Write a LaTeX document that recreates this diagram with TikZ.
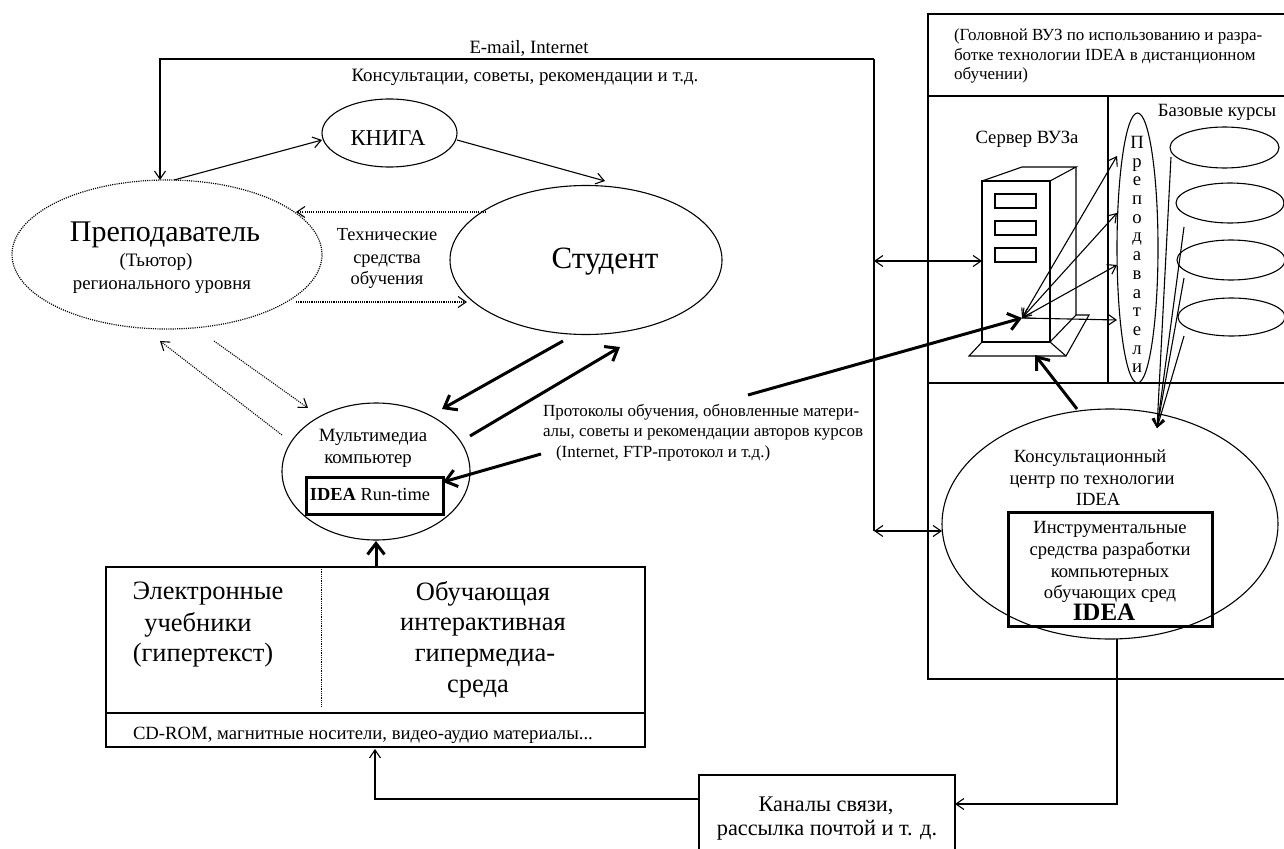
\documentclass[tikz,border=0pt]{standalone}
\usepackage{fontspec}
\setmainfont{Liberation Serif}
\usetikzlibrary{arrows.meta,shapes.geometric}
\newcommand{\fsz}[1]{\fontsize{#1}{#1}\selectfont}
\newcommand{\evenstrut}{\rule[-.25em]{0pt}{.95em}}
\tikzset{
  thinline/.style={line width=1.1pt},
  arr/.style={thinline,-{Straight Barb[length=8pt,width=11pt,line width=1.1pt]}},
  dbl/.style={thinline,{Straight Barb[length=8pt,width=11pt,line width=1.1pt]}-{Straight Barb[length=8pt,width=11pt,line width=1.1pt]}},
  finedots/.style={dash pattern=on 1.1pt off 1.1pt},
  dotarr/.style={line width=1.1pt,finedots,-{Straight Barb[length=8pt,width=11pt,line width=1.1pt,sep=0pt]}},
  thickarr/.style={line width=3pt,-{Straight Barb[length=11pt,width=17pt,line width=3pt]}},
  oval/.style={draw,ellipse,line width=1.1pt,inner sep=0pt,outer sep=0pt},
  dotoval/.style={oval,line width=1.2pt,finedots},
  box/.style={draw,rectangle,line width=1.1pt,inner sep=0pt,outer sep=0pt},
  heavybox/.style={box,line width=3pt},
  txt/.style={inner sep=0pt,outer sep=0pt,yshift=-2pt,execute at begin node=\evenstrut},
  ltxt/.style={inner sep=0pt,outer sep=0pt,yshift=-2pt,anchor=west,execute at begin node=\evenstrut},
  vtxt/.style={inner sep=0pt,outer sep=0pt,align=center},
}
\begin{document}
\begin{tikzpicture}[x=1pt,y=-1pt]
\useasboundingbox (0,0) rectangle (1284,848);
% right frame
\node[box,minimum width=370pt,minimum height=665pt,anchor=north west] (frame) at (928,14) {};
\coordinate (frameTopL) at (928,96);
\coordinate (frameTopR) at (1284,96);
\coordinate (frameMidL) at (928,383);
\coordinate (frameMidR) at (1284,383);
\coordinate (frameV1) at (1108,96);
\coordinate (frameV2) at (1108,383);
\draw[thinline] (frameTopL) -- (frameTopR);
\draw[thinline] (frameMidL) -- (frameMidR);
\draw[thinline] (frameV1) -- (frameV2);
% ovals
\node[dotoval,minimum width=310pt,minimum height=149pt] (prep) at (167,254.5) {};
\node[oval,minimum width=135pt,minimum height=68pt] (book) at (389.5,133) {};
\node[oval,minimum width=272pt,minimum height=149pt] (student) at (586,260) {};
\node[oval,minimum width=188pt,minimum height=137pt] (mm) at (376,471.5) {};
\node[oval,minimum width=336pt,minimum height=230pt] (cons) at (1110,524) {};
\node[oval,minimum width=41pt,minimum height=270pt] (teach) at (1137.5,248) {};
\node[oval,minimum width=109pt,minimum height=41pt] (c1) at (1224.5,147.5) {};
\node[oval,minimum width=108pt,minimum height=40pt] (c2) at (1230,203) {};
\node[oval,minimum width=108pt,minimum height=40pt] (c3) at (1231,260) {};
\node[oval,minimum width=107pt,minimum height=38pt] (c4) at (1231.5,317) {};
% boxes
\node[heavybox,minimum width=137pt,minimum height=37pt] (rt) at (374.5,495.5) {};
\node[heavybox,minimum width=204pt,minimum height=114pt] (tools) at (1110,569) {};
\node[box,minimum width=539pt,minimum height=180pt] (media) at (375.5,657) {};
\node[box,minimum width=256pt,minimum height=80pt,anchor=north west] (chan) at (699,775) {};
\coordinate (mediaL) at (106,713);
\coordinate (mediaR) at (645,713);
\coordinate (mediaD1) at (321,567);
\coordinate (mediaD2) at (321,706);
\draw[thinline] (mediaL) -- (mediaR);
\draw[line width=.8pt,densely dotted] (mediaD1) -- (mediaD2);
% server
\coordinate (s1) at (982,181);
\coordinate (s2) at (1050,181);
\coordinate (s3) at (1050,342);
\coordinate (s4) at (982,342);
\coordinate (s5) at (1022,167);
\coordinate (s6) at (1076,167);
\coordinate (s7) at (1076,315);
\coordinate (s8) at (1089,315);
\coordinate (s9) at (1066,356);
\coordinate (s10) at (969,356);
\draw[thinline] (s1) -- (s2) -- (s3) -- (s4) -- cycle;
\draw[thinline] (s1) -- (s5) -- (s6) -- (s2);
\draw[thinline] (s6) -- (s7) -- (s8) -- (s9) -- (s10) -- (s4);
\draw[thinline] (s3) -- (s9);
\draw[thinline] (s3) -- (s7);
\node[box,minimum width=41pt,minimum height=14pt] (slot1) at (1015.5,201) {};
\node[box,minimum width=41pt,minimum height=14pt] (slot2) at (1015.5,228) {};
\node[box,minimum width=41pt,minimum height=14pt] (slot3) at (1015.5,255) {};
% free ends
\coordinate (hub) at (1022,318);
\coordinate (t1) at (1117,156);
\coordinate (t2) at (1117,213);
\coordinate (t3) at (1117,265);
\coordinate (t4) at (1117,320);
\coordinate (l1) at (1171,157);
\coordinate (l2) at (1184,227);
\coordinate (l3) at (1184,278);
\coordinate (l4) at (1184,336);
\coordinate (ltip) at (1157,428);
\coordinate (busTL) at (160,59);
\coordinate (busTR) at (874,59);
\coordinate (busA) at (874,261);
\coordinate (busB) at (874,531);
\coordinate (srvL) at (982,261);
\coordinate (base) at (1035,355);
\coordinate (consT) at (1077,409);
\coordinate (protA) at (748,395);
\coordinate (stD1) at (563,341);
\coordinate (mmA1) at (442,409);
\coordinate (mmA2) at (470,436);
\coordinate (stD2) at (620,347);
\coordinate (protB) at (541,454);
\coordinate (rtE) at (443,482);
\coordinate (dotA1) at (486,212);
\coordinate (dotA2) at (296,212);
\coordinate (dotB1) at (296,302);
\coordinate (dotB2) at (467,302);
\coordinate (dotC1) at (214,341);
\coordinate (dotC2) at (308,408);
\coordinate (dotD1) at (282,435);
\coordinate (dotD2) at (160,341);
\coordinate (prepTop) at (160,180);
\coordinate (prepOut) at (174,180);
\coordinate (bookIn) at (322,140);
\coordinate (bookOut) at (457,140);
\coordinate (stIn) at (605,181);
\coordinate (consBot) at (1117,639);
\coordinate (cornerR) at (1117,804);
\coordinate (chanIn) at (955,804);
\coordinate (chanOut) at (699,799);
\coordinate (cornerL) at (375,799);
\coordinate (mediaIn) at (375,749);
\coordinate (consL) at (942,531);
\coordinate (mediaOut) at (376,566);
\coordinate (mmIn) at (376,541);
% connectors
\draw[arr] (busTR) -- (busTL) -- (prepTop);
\draw[thinline] (busTR) -- (busB);
\draw[dbl] (busA) -- (srvL);
\draw[dbl] (busB) -- (consL);
\draw[arr] (prepOut) -- (bookIn);
\draw[arr] (bookOut) -- (stIn);
\draw[dotarr] (dotA1) -- (dotA2);
\draw[dotarr] (dotB1) -- (dotB2);
\draw[dotarr] (dotC1) -- (dotC2);
\draw[dotarr] (dotD1) -- (dotD2);
\draw[thickarr] (stD1) -- (mmA1);
\draw[thickarr] (mmA2) -- (stD2);
\draw[thickarr] (protB) -- (rtE);
\draw[thickarr] (mediaOut) -- (mmIn);
\draw[thickarr] (protA) -- (hub);
\draw[thickarr] (consT) -- (base);
\draw[dbl] (hub) -- (t1);
\draw[dbl] (hub) -- (t2);
\draw[dbl] (hub) -- (t3);
\draw[arr] (hub) -- (t4);
\draw[arr] (l1) -- (ltip);
\draw[arr] (l2) -- (ltip);
\draw[arr] (l3) -- (ltip);
\draw[arr] (l4) -- (ltip);
\draw[arr] (consBot) -- (cornerR) -- (chanIn);
\draw[arr] (chanOut) -- (cornerL) -- (mediaIn);
% texts
\node[txt,font=\fsz{18.8}] (tMail) at (529,47) {E-mail, Internet};
\node[txt,font=\fsz{18.9}] (tCons) at (525,75) {Консультации, советы, рекомендации и т.д.};
\node[txt,font=\fsz{22.7}] (tBook) at (388,138) {КНИГА};
\node[txt,font=\fsz{30}] (tPrep) at (165,233) {Преподаватель};
\node[txt,font=\fsz{19}] (tTut) at (156,260) {(Тьютор)};
\node[txt,font=\fsz{18.8}] (tReg) at (162,283) {регионального уровня};
\node[txt,font=\fsz{18.4}] (tTech) at (387,234) {Технические};
\node[txt,font=\fsz{18.4}] (tTech2) at (387,257) {средства};
\node[txt,font=\fsz{18.4}] (tTech3) at (387,278) {обучения};
\node[txt,font=\fsz{31}] (tStud) at (605,260) {Студент};
\node[txt,font=\fsz{18.8}] (tMm) at (373,435) {Мультимедиа};
\node[txt,font=\fsz{18.8}] (tMm2) at (368,457) {компьютер};
\node[txt,font=\fsz{18.4}] (tRt) at (370,494) {\textbf{IDEA} Run-time};
\node[ltxt,font=\fsz{17}] (tPr1) at (543,411) {Протоколы обучения, обновленные матери-};
\node[ltxt,font=\fsz{17}] (tPr2) at (543,431) {алы, советы и рекомендации авторов курсов};
\node[ltxt,font=\fsz{17}] (tPr3) at (556,452) {(Internet, FTP-протокол и т.д.)};
\node[txt,font=\fsz{26.5}] (tEl1) at (208,592) {Электронные};
\node[txt,font=\fsz{26.5}] (tEl2) at (198,623) {учебники};
\node[txt,font=\fsz{26.5}] (tEl3) at (203,654) {(гипертекст)};
\node[txt,font=\fsz{26.5}] (tOb1) at (483,592) {Обучающая};
\node[txt,font=\fsz{26.5}] (tOb2) at (483,623) {интерактивная};
\node[txt,font=\fsz{26.5}] (tOb3) at (485,654) {гипермедиа-};
\node[txt,font=\fsz{26.5}] (tOb4) at (478,685) {среда};
\node[ltxt,font=\fsz{18.7}] (tCd) at (133,733) {CD-ROM, магнитные носители, видео-аудио материалы...};
\node[txt,font=\fsz{22.3}] (tCh1) at (826,804) {Каналы связи,};
\node[txt,font=\fsz{22.3}] (tCh2) at (827,828) {рассылка почтой и т. д.};
\node[ltxt,font=\fsz{17}] (tH1) at (954,35) {(Головной ВУЗ по использованию и разра-};
\node[ltxt,font=\fsz{17}] (tH2) at (954,55) {ботке технологии IDEA в дистанционном};
\node[ltxt,font=\fsz{17}] (tH3) at (954,74) {обучении)};
\node[txt,font=\fsz{18.7}] (tBase) at (1217,110) {Базовые курсы};
\node[txt,font=\fsz{18.7}] (tSrv) at (1027,137) {Сервер ВУЗа};
\node[txt,font=\fsz{18.6}] (tCn1) at (1090,456) {Консультационный};
\node[txt,font=\fsz{18.6}] (tCn2) at (1092,478) {центр по технологии};
\node[txt,font=\fsz{18.6}] (tCn3) at (1098,499) {IDEA};
\node[txt,font=\fsz{18.6}] (tIn1) at (1110,527) {Инструментальные};
\node[txt,font=\fsz{18.6}] (tIn2) at (1110,549) {средства разработки};
\node[txt,font=\fsz{18.6}] (tIn3) at (1110,571) {компьютерных};
\node[txt,font=\fsz{18.6}] (tIn4) at (1110,592) {обучающих сред};
\node[txt,font=\fsz{25}\bfseries] (tIn5) at (1104,613) {IDEA};
\node[vtxt,font=\fsz{18.7}] (tV) at (1137,254.5) {\setlength{\baselineskip}{18.7pt}П\\р\\е\\п\\о\\д\\а\\в\\а\\т\\е\\л\\и};
\end{tikzpicture}
\end{document}
